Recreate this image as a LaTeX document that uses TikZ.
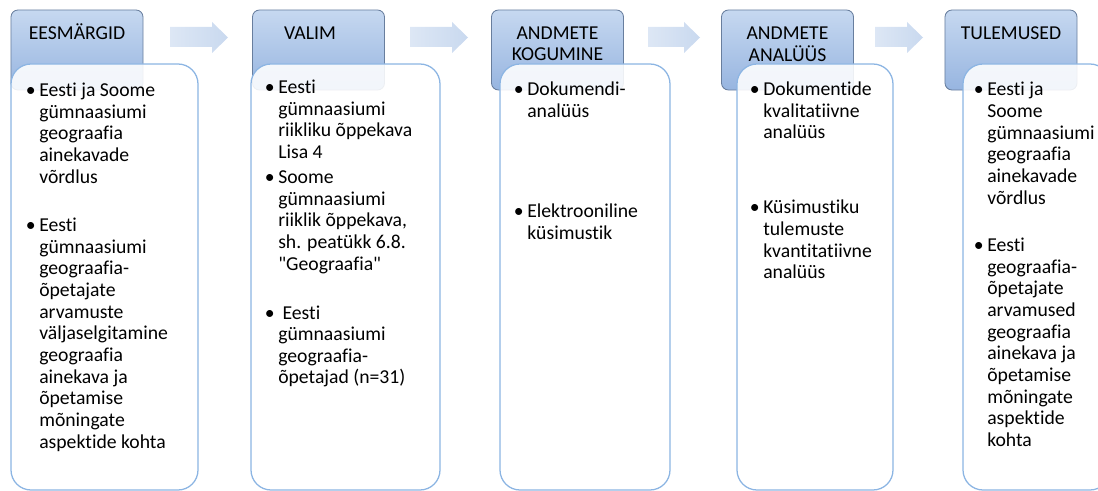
\documentclass[tikz,border=0pt]{standalone}
\usepackage{fontspec}
\setmainfont{Carlito}[Ligatures={NoCommon}]
\usepackage{tikz}

\definecolor{headtop}{HTML}{C6D8F0}
\definecolor{headbot}{HTML}{97B5E0}
\definecolor{headline}{HTML}{687E9E}
\definecolor{boxline}{HTML}{8CB5E3}
\definecolor{arrowl}{HTML}{DDE7F5}
\definecolor{arrowr}{HTML}{C9D9EF}

\newcommand{\col}[1]{\begin{tabular}[t]{@{}l@{}}#1\end{tabular}}
\newcommand{\hcol}[1]{\begin{tabular}[t]{@{}c@{}}#1\end{tabular}}
\newcommand{\bul}{\llap{\textbullet\hspace{2.5pt}}}

\begin{document}
\begin{tikzpicture}[x=0.025cm, y=-0.025cm,
   headbox/.style={draw=headline, line width=0.6pt, rounded corners=5pt,
      top color=headtop, bottom color=headbot,
      minimum width=3.3cm, minimum height=2cm},
   bodybox/.style={draw=boxline, line width=0.9pt, rounded corners=0.5cm,
      fill=white, fill opacity=0.88, minimum height=426*0.025cm},
   headtext/.style={anchor=base, inner sep=0pt, font=\fontsize{14}{15.2}\selectfont},
   item/.style={anchor=base west, inner sep=0pt, font=\fontsize{14}{15.4}\selectfont}]
   \useasboundingbox (0,0) rectangle (1098,491);

   % header boxes
   \foreach \n/\cx in {1/77, 2/318.5, 3/557.5, 4/787.5, 5/1011}
      \node[headbox] (h\n) at (\cx,50) {};

   % arrows between the steps
   \foreach \a/\b in {170/228, 410/468, 648/700, 875/923}
      \shade[left color=arrowl, right color=arrowr]
         (\a,27) -- (\b-16,27) -- (\b-16,22) -- (\b,37.5) --
         (\b-16,53) -- (\b-16,47) -- (\a,47) -- cycle;

   % white boxes
   \foreach \n/\cx/\w in {1/104.5/187, 2/345.5/189, 3/585/170, 4/815/156, 5/1036.5/147}
      \node[bodybox, minimum width=\w*0.025cm] (b\n) at (\cx,277) {};

   % titles
   \node[headtext] (t1) at (77,39.4) {EESMÄRGID};
   \node[headtext] (t2) at (310,39.4) {VALIM};
   \node[headtext] (t3) at (557.5,39.4) {\hcol{ANDMETE\\KOGUMINE}};
   \node[headtext] (t4) at (787.5,39.4) {\hcol{ANDMETE\\ANALÜÜS}};
   \node[headtext] (t5) at (1011,39.4) {TULEMUSED};

   % items
   \node[item] (i11) at (39,96.5) {\col{\bul Eesti ja Soome\\gümnaasiumi\\geograafia\\ainekavade\\võrdlus}};
   \node[item] (i12) at (39,231.5) {\col{\bul Eesti\\gümnaasiumi\\geograafia-\\õpetajate\\arvamuste\\väljaselgitamine\\geograafia\\ainekava ja\\õpetamise\\mõningate\\aspektide kohta}};

   \node[item] (i21) at (278,93.5) {\col{\bul Eesti\\gümnaasiumi\\riikliku õppekava\\Lisa 4}};
   \node[item] (i22) at (278,183.5) {\col{\bul Soome\\gümnaasiumi\\riiklik õppekava,\\sh. peatükk 6.8.\\\textquotedbl Geograafia\textquotedbl}};
   \node[item] (i23) at (278,319) {\col{\bul\hspace{0.22em}Eesti\\gümnaasiumi\\geograafia-\\õpetajad (n=31)}};

   \node[item] (i31) at (527,95.5) {\col{\bul Dokumendi-\\analüüs}};
   \node[item] (i32) at (527,217.5) {\col{\bul Elektrooniline\\küsimustik}};

   \node[item] (i41) at (763,95.5) {\col{\bul Dokumentide\\kvalitatiivne\\analüüs}};
   \node[item] (i42) at (763,214) {\col{\bul Küsimustiku\\tulemuste\\kvantitatiivne\\analüüs}};

   \node[item] (i51) at (987,96) {\col{\bul Eesti ja\\Soome\\gümnaasiumi\\geograafia\\ainekavade\\võrdlus}};
   \node[item] (i52) at (987,251.5) {\col{\bul Eesti\\geograafia-\\õpetajate\\arvamused\\geograafia\\ainekava ja\\õpetamise\\mõningate\\aspektide\\kohta}};
\end{tikzpicture}
\end{document}
